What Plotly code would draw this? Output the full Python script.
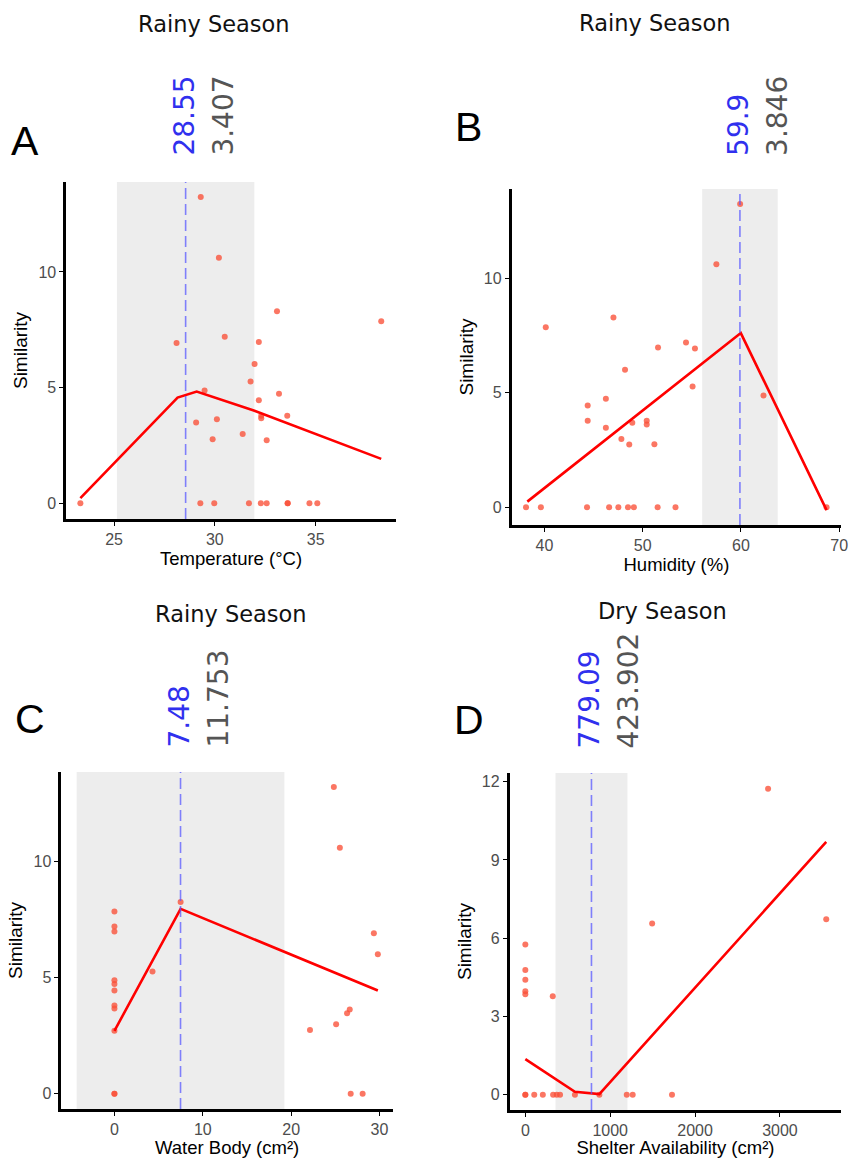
import plotly.graph_objects as go

# ---------------- data ----------------
temp_x = [29.30, 30.20, 33.08, 38.25, 30.49, 28.10, 32.18, 31.97, 31.77, 29.49, 33.18, 32.18, 29.07, 30.10,
          32.30, 32.30, 33.59, 31.38, 29.89, 32.57,
          23.33, 29.28, 29.97, 31.69, 32.28, 32.57, 33.61, 33.61, 34.69, 35.08]
temp_y = [13.24, 10.62, 8.30, 7.87, 7.20, 6.93, 6.97, 6.02, 5.26, 4.88, 4.73, 4.45, 3.49, 3.63,
          3.78, 3.68, 3.78, 3.00, 2.77, 2.72,
          0, 0, 0, 0, 0, 0, 0, 0, 0, 0]
temp_line_x = [23.33, 28.15, 29.10, 31.93, 38.25]
temp_line_y = [0.22, 4.57, 4.83, 4.01, 1.92]
temp_mean, temp_sd = 28.55, 3.407

hum_x = [59.92, 57.50, 40.13, 47.02, 51.56, 54.41, 55.32, 48.20, 55.08, 62.30, 46.25, 44.40, 44.40, 46.25,
         48.94, 50.41, 50.41, 47.83, 48.63, 51.19,
         38.12, 39.63, 44.33, 46.58, 47.52, 48.50, 49.10, 51.52, 53.34, 68.72]
hum_y = [13.24, 10.61, 7.86, 8.29, 6.98, 7.20, 6.94, 6.01, 5.28, 4.88, 4.74, 4.45, 3.78, 3.48,
         3.69, 3.78, 3.62, 2.99, 2.74, 2.76,
         0, 0, 0, 0, 0, 0, 0, 0, 0, 0]
hum_line_x = [38.25, 59.99, 68.72]
hum_line_y = [0.25, 7.61, -0.12]
hum_mean, hum_sd = 59.9, 3.846

water_x = [24.83, 25.51, 7.49, 0, 0, 0, 29.36, 29.81, 4.31, 0, 0, 0, 0, 0,
           26.63, 26.33, 25.09, 22.13, 0,
           0, 0, 26.74, 28.09]
water_y = [13.22, 10.60, 8.27, 7.86, 7.21, 6.99, 6.92, 6.01, 5.27, 4.89, 4.73, 4.45, 3.80, 3.67,
           3.63, 3.47, 2.99, 2.75, 2.71,
           0, 0, 0, 0]
water_line_x = [0, 7.49, 29.81]
water_line_y = [2.71, 7.97, 4.45]
water_mean, water_sd = 7.48, 11.753

shelter_x = [2860, 1494, 3545, 0, 0, 0, 0, 0, 323,
             0, 0, 105, 206, 327, 370, 409, 584, 872, 1195, 1265, 1728]
shelter_y = [11.73, 6.56, 6.73, 5.76, 4.78, 4.41, 3.97, 3.85, 3.78,
             0, 0, 0, 0, 0, 0, 0, 0, 0, 0, 0, 0]
shelter_line_x = [0, 584, 872, 3545]
shelter_line_y = [1.37, 0.12, 0.03, 9.69]
shelter_mean, shelter_sd = 779.09, 423.902

panel_letters = ["A", "B", "C", "D"]
season_titles = ["Rainy Season", "Rainy Season", "Rainy Season", "Dry Season"]
x_titles = ["Temperature (°C)", "Humidity (%)", "Water Body (cm²)", "Shelter Availability (cm²)"]
x_ticks = [[25, 30, 35], [40, 50, 60, 70], [0, 10, 20, 30], [0, 1000, 2000, 3000]]
y_ticks = [[0, 5, 10], [0, 5, 10], [0, 5, 10], [0, 3, 6, 9, 12]]

# ---------------- layout geometry ----------------
W, H = 858, 1158
def fx(px): return px / W
def fy(py): return 1 - py / H

panels = [
    dict(xs=temp_x, ys=temp_y, lx=temp_line_x, ly=temp_line_y, m=temp_mean, sd=temp_sd,
         dom_x=(67, 399), dom_y=(182, 519), xr=[22.64, 38.97], yr=[-0.68, 13.89],
         title_xy=(216, 24), letter_xy=(25, 141), ann_y=158),
    dict(xs=hum_x, ys=hum_y, lx=hum_line_x, ly=hum_line_y, m=hum_mean, sd=hum_sd,
         dom_x=(516, 848), dom_y=(189, 525), xr=[36.67, 70.2], yr=[-0.77, 13.9],
         title_xy=(660, 23), letter_xy=(472, 127), ann_y=158),
    dict(xs=water_x, ys=water_y, lx=water_line_x, ly=water_line_y, m=water_mean, sd=water_sd,
         dom_x=(62, 396), dom_y=(772, 1109), xr=[-5.99, 31.5], yr=[-0.66, 13.87],
         title_xy=(233, 614), letter_xy=(30, 719), ann_y=750),
    dict(xs=shelter_x, ys=shelter_y, lx=shelter_line_x, ly=shelter_line_y, m=shelter_mean, sd=shelter_sd,
         dom_x=(514, 848), dom_y=(773, 1110), xr=[-183, 3720], yr=[-0.58, 12.33],
         title_xy=(668, 611), letter_xy=(473, 720), ann_y=750),
]

fig = go.Figure()
shapes, annotations = [], []
layout_axes = {}

for i, p in enumerate(panels):
    n = "" if i == 0 else str(i + 1)
    xa, ya = "x" + n, "y" + n
    fig.add_trace(go.Scatter(x=p["xs"], y=p["ys"], mode="markers", xaxis=xa, yaxis=ya,
                             marker=dict(size=6, color="rgba(250,80,55,0.78)", line=dict(width=0)),
                             showlegend=False, hoverinfo="x+y"))
    fig.add_trace(go.Scatter(x=p["lx"], y=p["ly"], mode="lines", xaxis=xa, yaxis=ya,
                             line=dict(color="#FF0000", width=2.6), showlegend=False))
    # band (mean +/- sd)
    shapes.append(dict(type="rect", xref=xa, yref=ya + " domain", x0=p["m"] - p["sd"], x1=p["m"] + p["sd"],
                       y0=0, y1=1, fillcolor="#EDEDED", line=dict(width=0), layer="below"))
    # mean line
    shapes.append(dict(type="line", xref=xa, yref=ya + " domain", x0=p["m"], x1=p["m"], y0=0, y1=1,
                       line=dict(color="rgba(90,90,255,0.75)", width=1.6, dash="11px,5px"), layer="above"))
    # value annotations
    annotations.append(dict(x=p["m"], xref=xa, y=fy(p["ann_y"]), yref="paper", text=str(p["m"]),
                            textangle=-90, showarrow=False, xanchor="center", yanchor="bottom", xshift=-2,
                            font=dict(family="DejaVu Sans", size=28, color="#3030EE")))
    annotations.append(dict(x=p["m"], xref=xa, y=fy(p["ann_y"]), yref="paper", text=str(p["sd"]),
                            textangle=-90, showarrow=False, xanchor="center", yanchor="bottom", xshift=37,
                            font=dict(family="DejaVu Sans", size=28, color="#555555")))
    # season title
    annotations.append(dict(x=fx(p["title_xy"][0]), y=fy(p["title_xy"][1]), xref="paper", yref="paper",
                            text=season_titles[i], showarrow=False, xanchor="center", yanchor="middle",
                            font=dict(family="DejaVu Sans", size=22.5, color="#111111")))
    # panel letter
    annotations.append(dict(x=fx(p["letter_xy"][0]), y=fy(p["letter_xy"][1]), xref="paper", yref="paper",
                            text=panel_letters[i], showarrow=False, xanchor="center", yanchor="middle",
                            font=dict(family="Liberation Sans, Arial", size=41, color="#000000")))
    axis_common = dict(showline=True, linecolor="black", linewidth=3, mirror=False, showgrid=False,
                       zeroline=False, ticks="outside", ticklen=4, tickwidth=1, tickcolor="black",
                       tickfont=dict(family="Liberation Sans, Arial", size=16, color="#4D4D4D"))
    layout_axes["xaxis" + n] = dict(axis_common, domain=[fx(p["dom_x"][0]), fx(p["dom_x"][1])],
                                    anchor=ya, range=p["xr"], tickvals=x_ticks[i],
                                    title=dict(text=x_titles[i], standoff=4,
                                               font=dict(family="Liberation Sans, Arial", size=18.5, color="black")))
    layout_axes["yaxis" + n] = dict(axis_common, domain=[fy(p["dom_y"][1]), fy(p["dom_y"][0])],
                                    anchor=xa, range=p["yr"], tickvals=y_ticks[i],
                                    title=dict(text="Similarity", standoff=6,
                                               font=dict(family="Liberation Sans, Arial", size=19, color="black")))

fig.update_layout(width=W, height=H, margin=dict(l=0, r=0, t=0, b=0),
                  plot_bgcolor="white", paper_bgcolor="white",
                  shapes=shapes, annotations=annotations, **layout_axes)

fig.write_html("out.html", config={"displayModeBar": False},
               post_script="document.body.style.margin='0px';document.body.style.overflow='hidden';")
